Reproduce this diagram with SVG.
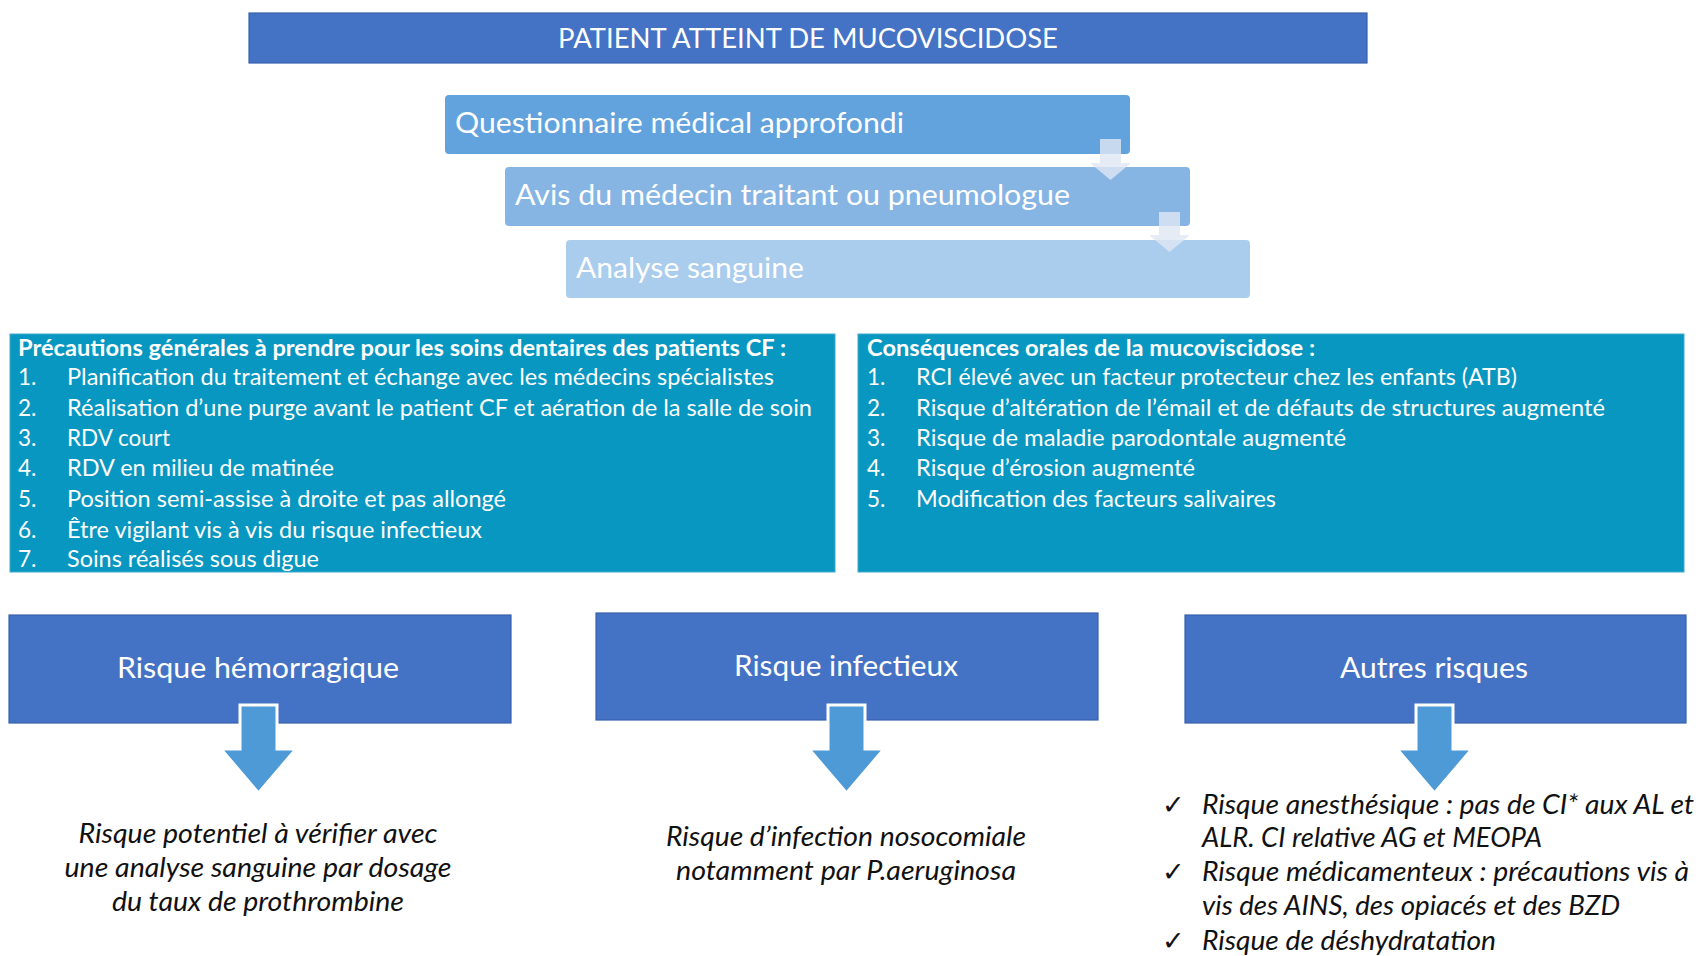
<svg xmlns="http://www.w3.org/2000/svg" width="1701" height="956" viewBox="0 0 1701 956">
<style>
.lbl{font-family:Lato,"Open Sans","Liberation Sans",sans-serif;fill:#fff}
.ital{font-family:Lato,"Open Sans","Liberation Sans",sans-serif;font-style:italic;fill:#111}
.blue{fill:#4472C4;stroke:#3A62AD;stroke-width:1.2}
.teal{fill:#0797C1;stroke:#3FA9CC;stroke-width:1}
.big{fill:#4E9AD6;stroke:#fff;stroke-width:3}
.small{fill:#E0E7F4;fill-opacity:0.8}
.li{font-size:22.5px}
</style>
<rect width="1701" height="956" fill="#fff"/>
<g id="title">
<rect class="blue" x="249" y="13" width="1118" height="50"/>
<text class="lbl" x="808" y="48" font-size="27" text-anchor="middle" textLength="500" lengthAdjust="spacingAndGlyphs">PATIENT ATTEINT DE MUCOVISCIDOSE</text>
</g>
<g id="step1">
<rect x="445" y="95" width="685" height="59" rx="4" fill="#62A2DD"/>
<text class="lbl" x="455" y="133" font-size="29" textLength="449" lengthAdjust="spacingAndGlyphs">Questionnaire médical approfondi</text>
</g>
<g id="step2">
<rect x="505" y="167" width="685" height="59" rx="4" fill="#86B5E4"/>
<text class="lbl" x="515" y="205" font-size="29" textLength="555" lengthAdjust="spacingAndGlyphs">Avis du médecin traitant ou pneumologue</text>
</g>
<g id="step3">
<rect x="566" y="240" width="684" height="58" rx="4" fill="#AACCED"/>
<text class="lbl" x="576" y="278" font-size="29" textLength="228" lengthAdjust="spacingAndGlyphs">Analyse sanguine</text>
</g>
<g id="precautions">
<rect class="teal" x="10" y="334" width="825" height="238"/>
<g class="lbl li">
<text x="18" y="356" font-weight="bold" textLength="768" lengthAdjust="spacingAndGlyphs">Précautions générales à prendre pour les soins dentaires des patients CF :</text>
<text x="18" y="385">1.</text><text x="67" y="385" textLength="707" lengthAdjust="spacingAndGlyphs">Planification du traitement et échange avec les médecins spécialistes</text>
<text x="18" y="416">2.</text><text x="67" y="416" textLength="745" lengthAdjust="spacingAndGlyphs">Réalisation d’une purge avant le patient CF et aération de la salle de soin</text>
<text x="18" y="446">3.</text><text x="67" y="446" textLength="103" lengthAdjust="spacingAndGlyphs">RDV court</text>
<text x="18" y="476">4.</text><text x="67" y="476" textLength="267" lengthAdjust="spacingAndGlyphs">RDV en milieu de matinée</text>
<text x="18" y="507">5.</text><text x="67" y="507" textLength="439" lengthAdjust="spacingAndGlyphs">Position semi-assise à droite et pas allongé</text>
<text x="18" y="538">6.</text><text x="67" y="538" textLength="415" lengthAdjust="spacingAndGlyphs">Être vigilant vis à vis du risque infectieux</text>
<text x="18" y="567">7.</text><text x="67" y="567" textLength="252" lengthAdjust="spacingAndGlyphs">Soins réalisés sous digue</text>
</g>
</g>
<g id="consequences">
<rect class="teal" x="858" y="334" width="826" height="238"/>
<g class="lbl li">
<text x="867" y="356" font-weight="bold" textLength="448" lengthAdjust="spacingAndGlyphs">Conséquences orales de la mucoviscidose :</text>
<text x="867" y="385">1.</text><text x="916" y="385" textLength="601" lengthAdjust="spacingAndGlyphs">RCI élevé avec un facteur protecteur chez les enfants (ATB)</text>
<text x="867" y="416">2.</text><text x="916" y="416" textLength="689" lengthAdjust="spacingAndGlyphs">Risque d’altération de l’émail et de défauts de structures augmenté</text>
<text x="867" y="446">3.</text><text x="916" y="446" textLength="430" lengthAdjust="spacingAndGlyphs">Risque de maladie parodontale augmenté</text>
<text x="867" y="476">4.</text><text x="916" y="476" textLength="279" lengthAdjust="spacingAndGlyphs">Risque d’érosion augmenté</text>
<text x="867" y="507">5.</text><text x="916" y="507" textLength="360" lengthAdjust="spacingAndGlyphs">Modification des facteurs salivaires</text>
</g>
</g>
<g id="hemorragique">
<rect class="blue" x="9" y="615" width="502" height="108"/>
<text class="lbl" x="258" y="678" font-size="29" text-anchor="middle" textLength="282" lengthAdjust="spacingAndGlyphs">Risque hémorragique</text>
<g class="ital" font-size="27" text-anchor="middle">
<text x="258" y="843" textLength="359" lengthAdjust="spacingAndGlyphs">Risque potentiel à vérifier avec</text>
<text x="258" y="877" textLength="387" lengthAdjust="spacingAndGlyphs">une analyse sanguine par dosage</text>
<text x="258" y="911" textLength="292" lengthAdjust="spacingAndGlyphs">du taux de prothrombine</text>
</g>
</g>
<g id="infectieux">
<rect class="blue" x="596" y="613" width="502" height="107"/>
<text class="lbl" x="846" y="676" font-size="29" text-anchor="middle" textLength="224" lengthAdjust="spacingAndGlyphs">Risque infectieux</text>
<g class="ital" font-size="27" text-anchor="middle">
<text x="846" y="846" textLength="360" lengthAdjust="spacingAndGlyphs">Risque d’infection nosocomiale</text>
<text x="846" y="880" textLength="340" lengthAdjust="spacingAndGlyphs">notamment par P.aeruginosa</text>
</g>
</g>
<g id="autres">
<rect class="blue" x="1185" y="615" width="501" height="108"/>
<text class="lbl" x="1434" y="678" font-size="29" text-anchor="middle" textLength="188" lengthAdjust="spacingAndGlyphs">Autres risques</text>
<g class="ital" font-size="27">
<text x="1162" y="814" font-style="normal">✓</text><text x="1202" y="814" textLength="492" lengthAdjust="spacingAndGlyphs">Risque anesthésique : pas de CI* aux AL et</text>
<text x="1202" y="847" textLength="340" lengthAdjust="spacingAndGlyphs">ALR. CI relative AG et MEOPA</text>
<text x="1162" y="881" font-style="normal">✓</text><text x="1202" y="881" textLength="487" lengthAdjust="spacingAndGlyphs">Risque médicamenteux : précautions vis à</text>
<text x="1202" y="915" textLength="418" lengthAdjust="spacingAndGlyphs">vis des AINS, des opiacés et des BZD</text>
<text x="1162" y="950" font-style="normal">✓</text><text x="1202" y="950" textLength="294" lengthAdjust="spacingAndGlyphs">Risque de déshydratation</text>
</g>
</g>
<g id="connectors">
<path class="small" d="M1100 139 H1121 V163 H1131 L1110.5 180 L1090 163 H1100 Z"/>
<path class="small" d="M1159 212 H1180 V235 H1190 L1169.5 252 L1149 235 H1159 Z"/>
<path class="big" d="M240 705 H277 V749 H296 L258.5 793 L221 749 H240 Z"/>
<path class="big" d="M828 705 H865 V749 H884 L846.5 793 L809 749 H828 Z"/>
<path class="big" d="M1416 705 H1453 V749 H1472 L1434.5 793 L1397 749 H1416 Z"/>
</g>
</svg>
